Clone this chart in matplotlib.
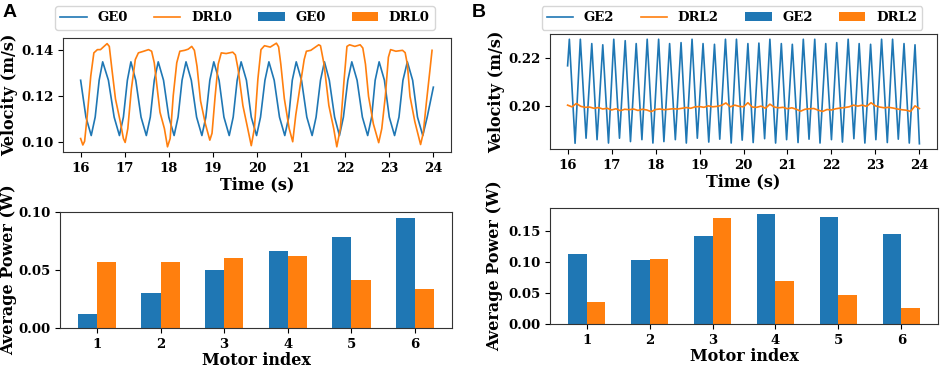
import numpy as np
import matplotlib
matplotlib.use("Agg")
import matplotlib.pyplot as plt

BLUE = "#1f77b4"
ORANGE = "#ff7f0e"

# ---- panel A: velocity (key points) ----
ge0_time = [16.00, 16.12, 16.24, 16.33, 16.42, 16.50, 16.63, 16.76, 16.88, 16.97, 17.06, 17.14,
            17.25, 17.37, 17.49, 17.58, 17.67, 17.76, 17.88, 18.00, 18.12, 18.21, 18.30, 18.39,
            18.51, 18.63, 18.75, 18.84, 18.93, 19.02, 19.14, 19.25, 19.37, 19.46, 19.55, 19.64,
            19.76, 19.87, 19.99, 20.08, 20.18, 20.27, 20.39, 20.51, 20.63, 20.72, 20.80, 20.89,
            21.01, 21.13, 21.25, 21.34, 21.44, 21.53, 21.64, 21.76, 21.87, 21.96, 22.06, 22.15,
            22.27, 22.39, 22.51, 22.60, 22.68, 22.77, 22.89, 23.00, 23.12, 23.22, 23.31, 23.41,
            23.53, 23.64, 23.76, 23.86, 24.00]
ge0_vel = [0.127, 0.111, 0.103, 0.111, 0.127, 0.135, 0.127, 0.111, 0.103, 0.111, 0.127, 0.135,
           0.127, 0.111, 0.103, 0.111, 0.127, 0.135, 0.127, 0.111, 0.103, 0.111, 0.127, 0.135,
           0.127, 0.111, 0.103, 0.111, 0.127, 0.135, 0.127, 0.111, 0.103, 0.111, 0.127, 0.135,
           0.127, 0.111, 0.103, 0.111, 0.127, 0.135, 0.127, 0.111, 0.103, 0.111, 0.127, 0.135,
           0.127, 0.111, 0.103, 0.111, 0.127, 0.135, 0.127, 0.111, 0.103, 0.111, 0.127, 0.135,
           0.127, 0.111, 0.103, 0.111, 0.127, 0.135, 0.127, 0.111, 0.103, 0.111, 0.127, 0.135,
           0.127, 0.111, 0.103, 0.111, 0.124]

drl0_time = [16.00, 16.05, 16.09, 16.15, 16.23, 16.30, 16.38, 16.45, 16.53, 16.60, 16.65, 16.71,
             16.79, 16.90, 16.97, 17.01, 17.07, 17.15, 17.24, 17.31, 17.43, 17.54, 17.61, 17.67,
             17.73, 17.80, 17.90, 17.97, 18.03, 18.10, 18.18, 18.25, 18.36, 18.44, 18.52, 18.58,
             18.64, 18.72, 18.83, 18.93, 18.98, 19.05, 19.12, 19.19, 19.30, 19.45, 19.51, 19.57,
             19.68, 19.79, 19.87, 19.94, 20.02, 20.09, 20.17, 20.30, 20.44, 20.49, 20.54, 20.62,
             20.73, 20.81, 20.88, 20.99, 21.07, 21.12, 21.22, 21.40, 21.44, 21.52, 21.63, 21.74,
             21.81, 21.89, 21.97, 22.04, 22.10, 22.22, 22.34, 22.40, 22.46, 22.53, 22.64, 22.76,
             22.83, 22.91, 22.98, 23.03, 23.15, 23.30, 23.36, 23.41, 23.47, 23.58, 23.71, 23.77,
             23.84, 23.92, 23.97]
drl0_vel = [0.1017, 0.0989, 0.1005, 0.1117, 0.1289, 0.1389, 0.1403, 0.1403, 0.1417, 0.1429, 0.1417, 0.1317,
            0.1189, 0.1089, 0.1017, 0.1000, 0.1060, 0.1231, 0.1360, 0.1389, 0.1396, 0.1403, 0.1396, 0.1346,
            0.1246, 0.1131, 0.1060, 0.0981, 0.1017, 0.1203, 0.1346, 0.1396, 0.1400, 0.1405, 0.1417, 0.1400,
            0.1330, 0.1180, 0.1080, 0.1010, 0.1040, 0.1200, 0.1340, 0.1389, 0.1386, 0.1392, 0.1380, 0.1320,
            0.1160, 0.1060, 0.0986, 0.1060, 0.1275, 0.1403, 0.1420, 0.1414, 0.1431, 0.1415, 0.1340, 0.1190,
            0.1060, 0.1003, 0.1120, 0.1260, 0.1360, 0.1396, 0.1400, 0.1424, 0.1420, 0.1340, 0.1160, 0.1060,
            0.0981, 0.1060, 0.1260, 0.1417, 0.1424, 0.1417, 0.1424, 0.1410, 0.1340, 0.1200, 0.1080, 0.0999,
            0.1060, 0.1200, 0.1370, 0.1403, 0.1396, 0.1400, 0.1390, 0.1340, 0.1200, 0.1090, 0.0991, 0.1040,
            0.1170, 0.1310, 0.1400]

# ---- panel B: velocity ----
ge2_time = [16.00, 16.04, 16.17, 16.29, 16.42, 16.55, 16.67, 16.80, 16.93, 17.05, 17.18, 17.31,
            17.43, 17.56, 17.69, 17.81, 17.94, 18.07, 18.19, 18.32, 18.45, 18.58, 18.70, 18.83,
            18.95, 19.08, 19.21, 19.34, 19.46, 19.59, 19.72, 19.84, 19.97, 20.10, 20.22, 20.35,
            20.48, 20.60, 20.73, 20.86, 20.98, 21.11, 21.24, 21.36, 21.49, 21.62, 21.74, 21.87,
            22.00, 22.12, 22.25, 22.38, 22.51, 22.63, 22.76, 22.89, 23.01, 23.14, 23.27, 23.39,
            23.52, 23.65, 23.77, 23.90, 24.00]
ge2_vel = [0.2166, 0.2276, 0.1845, 0.2276, 0.1866, 0.2258, 0.1860, 0.2253, 0.1846, 0.2276, 0.1866, 0.2270,
           0.1852, 0.2258, 0.1860, 0.2276, 0.1846, 0.2276, 0.1852, 0.2258, 0.1860, 0.2262, 0.1846, 0.2276,
           0.1866, 0.2258, 0.1850, 0.2255, 0.1862, 0.2276, 0.1846, 0.2276, 0.1858, 0.2258, 0.1848, 0.2260,
           0.1864, 0.2276, 0.1846, 0.2258, 0.1860, 0.2255, 0.1848, 0.2276, 0.1862, 0.2276, 0.1846, 0.2258,
           0.1860, 0.2262, 0.1850, 0.2276, 0.1864, 0.2258, 0.1846, 0.2255, 0.1860, 0.2276, 0.1848, 0.2276,
           0.1862, 0.2258, 0.1846, 0.2253, 0.1843]

drl2_time = np.linspace(16.0, 24.0, 81)  # sampled every 0.1 s
drl2_vel = [0.2003, 0.1996, 0.2010, 0.1998, 0.1994, 0.1995, 0.1990, 0.1993, 0.1987, 0.1990,
            0.1983, 0.1988, 0.1980, 0.1986, 0.1984, 0.1987, 0.1981, 0.1986, 0.1983, 0.1976,
            0.1985, 0.1987, 0.1984, 0.1986, 0.1988, 0.1987, 0.1990, 0.1993, 0.1990, 0.1996,
            0.1997, 0.1994, 0.2000, 0.1996, 0.1998, 0.2002, 0.2012, 0.1996, 0.2003, 0.1998,
            0.1996, 0.2013, 0.1995, 0.1994, 0.1999, 0.1990, 0.2007, 0.1995, 0.1992, 0.1994,
            0.1988, 0.1992, 0.1986, 0.1978, 0.1986, 0.1988, 0.1989, 0.1982, 0.1977, 0.1985,
            0.1983, 0.1988, 0.1991, 0.1993, 0.1996, 0.2003, 0.1999, 0.2003, 0.1998, 0.2013,
            0.2000, 0.1995, 0.1992, 0.1994, 0.1991, 0.1987, 0.1984, 0.1982, 0.1977, 0.2000,
            0.1989]

# ---- average power per motor ----
motors = [1, 2, 3, 4, 5, 6]
power_ge0 = [0.0121, 0.0298, 0.0497, 0.0662, 0.0789, 0.0954]
power_drl0 = [0.0566, 0.0566, 0.0601, 0.0618, 0.0416, 0.0335]
power_ge2 = [0.1124, 0.1027, 0.1414, 0.1780, 0.1720, 0.1457]
power_drl2 = [0.0355, 0.1048, 0.1715, 0.0694, 0.0468, 0.0258]

plt.rcParams["font.family"] = "DejaVu Serif"
plt.rcParams["font.weight"] = "bold"
plt.rcParams["axes.labelweight"] = "bold"
plt.rcParams["axes.edgecolor"] = "#333333"

TICK = 9.5
LABEL = 11.5

fig = plt.figure(figsize=(9.41, 3.68), dpi=100)
W, H = 941.0, 368.0


def px_axes(left, top, right, bottom):
    return fig.add_axes([left / W, 1 - bottom / H, (right - left) / W, (bottom - top) / H])


def velocity_panel(ax, t1, v1, t2, v2, yticks, label_x):
    l1, = ax.plot(t1, v1, color=BLUE, linewidth=1.2)
    l2, = ax.plot(t2, v2, color=ORANGE, linewidth=1.2)
    ax.set_xticks(range(16, 25))
    ax.set_yticks(yticks)
    ax.tick_params(labelsize=TICK)
    ax.set_xlabel("Time (s)", fontsize=LABEL, labelpad=1)
    ax.set_ylabel("Velocity (m/s)", fontsize=LABEL)
    ax.yaxis.set_label_coords(label_x, 0.5)
    return l1, l2


def power_panel(ax, ge, drl, yticks, label_x):
    x = np.array(motors)
    b1 = ax.bar(x - 0.15, ge, 0.3, color=BLUE)
    b2 = ax.bar(x + 0.15, drl, 0.3, color=ORANGE)
    ax.set_xticks(motors)
    ax.set_yticks(yticks)
    ax.tick_params(labelsize=TICK)
    ax.set_xlabel("Motor index", fontsize=LABEL, labelpad=1)
    ax.set_ylabel("Average Power (W)", fontsize=LABEL)
    ax.yaxis.set_label_coords(label_x, 0.5)
    return b1, b2


ax_a1 = px_axes(63, 38, 451, 152)
ax_a2 = px_axes(60, 212, 452, 328)
ax_b1 = px_axes(550, 34, 937, 149)
ax_b2 = px_axes(550, 208, 938, 324)

la1, la2 = velocity_panel(ax_a1, ge0_time, ge0_vel, drl0_time, drl0_vel, [0.10, 0.12, 0.14], -0.116)
ba1, ba2 = power_panel(ax_a2, power_ge0, power_drl0, [0.00, 0.05, 0.10], -0.110)
lb1, lb2 = velocity_panel(ax_b1, ge2_time, ge2_vel, drl2_time, drl2_vel, [0.20, 0.22], -0.116)
bb1, bb2 = power_panel(ax_b2, power_ge2, power_drl2, [0.00, 0.05, 0.10, 0.15], -0.121)

fig.legend([la1, la2, ba1, ba2], ["GE0", "DRL0", "GE0", "DRL0"], ncol=4, fontsize=TICK,
           loc="upper center", bbox_to_anchor=(245 / W, 1 - 6 / H), handlelength=2.0,
           borderaxespad=0, framealpha=0.8)
fig.legend([lb1, lb2, bb1, bb2], ["GE2", "DRL2", "GE2", "DRL2"], ncol=4, fontsize=TICK,
           loc="upper center", bbox_to_anchor=(732 / W, 1 - 6 / H), handlelength=2.0,
           borderaxespad=0, framealpha=0.8)

fig.text(3 / W, 1 - 4 / H, "A", fontsize=14, fontweight="bold", family="Liberation Sans", va="top")
fig.text(472 / W, 1 - 4 / H, "B", fontsize=14, fontweight="bold", family="Liberation Sans", va="top")

fig.savefig("out.png", dpi=100)
